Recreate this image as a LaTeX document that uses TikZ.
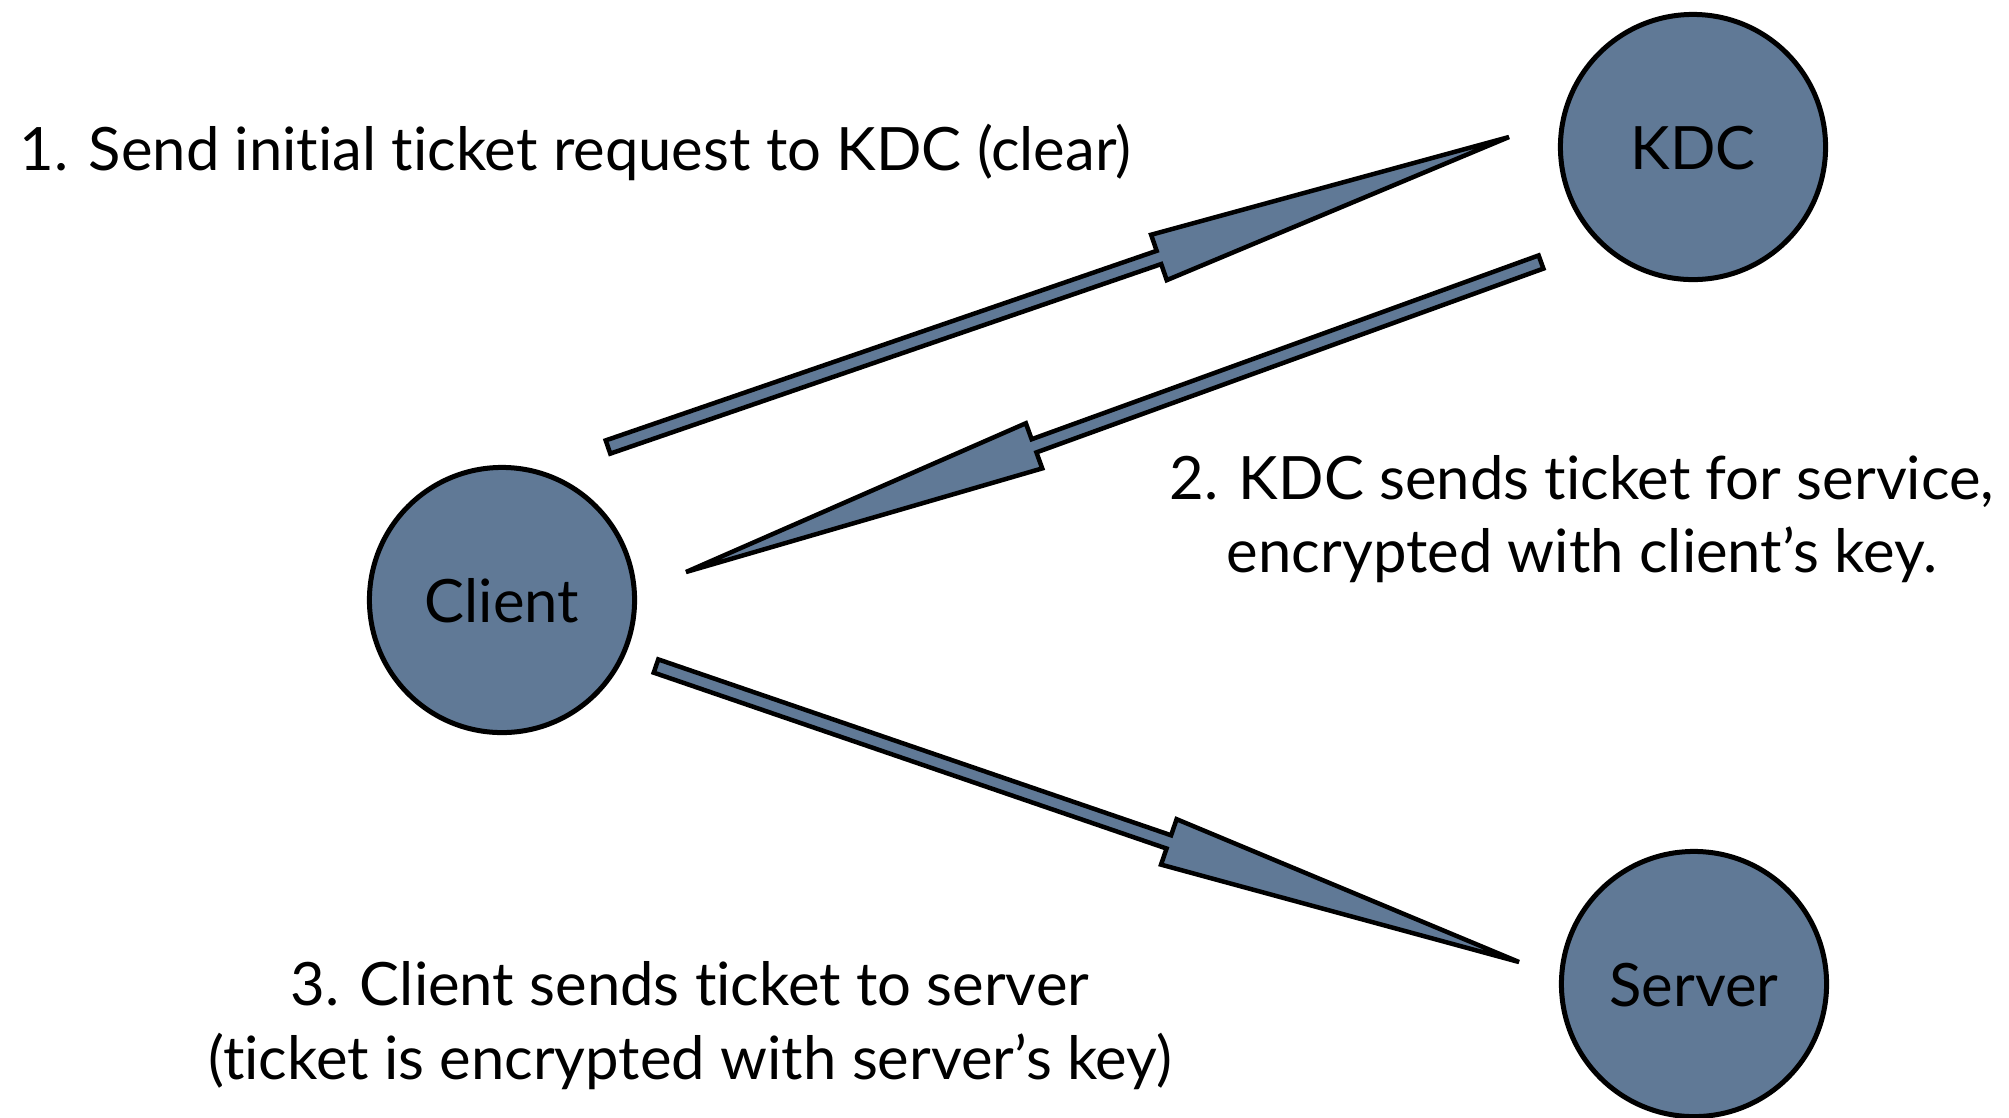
\documentclass[tikz,border=0pt]{standalone}
\usepackage{fontspec}
\setmainfont{Lato}[Ligatures={NoCommon}]
\usetikzlibrary{calc}
\definecolor{nodeblue}{RGB}{96,121,150}
\tikzset{
  party/.style={circle, draw=black, line width=0.05cm, fill=nodeblue, minimum size=2.65cm,
    inner sep=0pt, text height=0.44cm, text depth=0pt, font=\fontsize{17}{21}\selectfont},
  lbl/.style={inner sep=0pt, font=\fontsize{17}{21}\selectfont},
  fatarrowstyle/.style={draw=black, fill=nodeblue, line width=0.045cm, line join=miter}
}
\newcommand{\drawfatarrow}[2]{%
  \coordinate (#1h) at ($(#2)!3.7cm!(#1)$);
  \draw[fatarrowstyle]
    ($(#1)!0.07cm!90:(#2)$) --
    ($(#1h)!0.07cm!-90:(#1)$) --
    ($(#1h)!0.24cm!-90:(#1)$) --
    (#2) --
    ($(#1h)!0.24cm!90:(#1)$) --
    ($(#1h)!0.07cm!90:(#1)$) --
    ($(#1)!0.07cm!-90:(#2)$) -- cycle;
}
\begin{document}
\begin{tikzpicture}[x=0.01cm, y=-0.01cm]
  \fill[white] (0,0) rectangle (2009,1117);
  \useasboundingbox (0,0) rectangle (2009,1117);

  \node[party] (kdc) at (1693,147) {KDC};
  \node[party] (client) at (502,600) {Client};
  \node[party] (server) at (1694,984) {Server};

  \coordinate (a1s) at (608,447);  \coordinate (a1e) at (1509,137);
  \coordinate (a2s) at (1541,262); \coordinate (a2e) at (686,572);
  \coordinate (a3s) at (656,666);  \coordinate (a3e) at (1519,962);

  \drawfatarrow{a1s}{a1e}
  \drawfatarrow{a2s}{a2e}
  \drawfatarrow{a3s}{a3e}

  \node[lbl, anchor=base west] (l1) at (19,170) {1. Send initial ticket request to KDC (clear)};
  \node[lbl, anchor=base] (l2a) at (1582,499) {2. KDC sends ticket for service,};
  \node[lbl, anchor=base] (l2b) at (1582,572) {encrypted with client’s key.};
  \node[lbl, anchor=base] (l3a) at (690,1005) {3. Client sends ticket to server};
  \node[lbl, anchor=base] (l3b) at (690,1079) {(ticket is encrypted with server’s key)};
\end{tikzpicture}
\end{document}
